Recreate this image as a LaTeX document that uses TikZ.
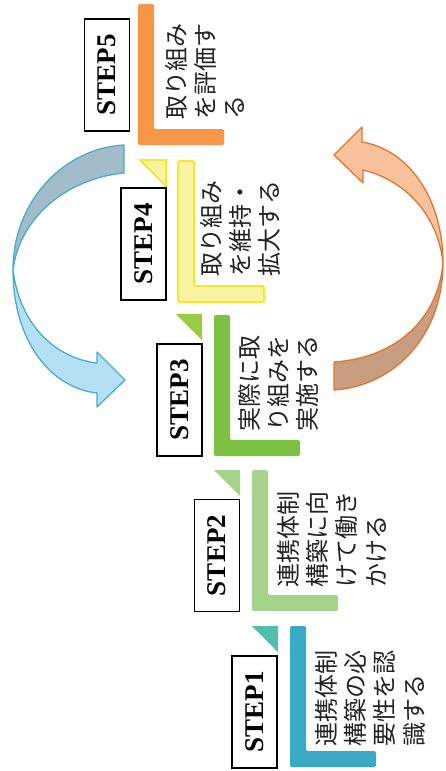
\documentclass[tikz,border=0pt]{standalone}
\usepackage{fontspec}
\setmainfont{Liberation Serif}
\newfontfamily\jp{Noto Sans CJK JP}
\definecolor{cOne}{HTML}{3AA9C6}
\definecolor{cOneT}{HTML}{52BFAB}
\definecolor{cTwo}{HTML}{A6D38C}
\definecolor{cThree}{HTML}{7CC142}
\definecolor{cThreeT}{HTML}{9ACB45}
\definecolor{cFourFill}{HTML}{F7F3A0}
\definecolor{cFourLine}{HTML}{F2EA2A}
\definecolor{cFive}{HTML}{F79646}
\definecolor{bLine}{HTML}{4BACC6}
\definecolor{bUp}{HTML}{A3BCC9}
\definecolor{bLow}{HTML}{B3E0F5}
\definecolor{oLine}{HTML}{E07530}
\definecolor{oUp}{HTML}{F9C29D}
\definecolor{oLow}{HTML}{C99D80}
\definecolor{txt}{HTML}{222222}
\begin{document}
\begin{tikzpicture}[x=1pt,y=-1pt,
  stepbox/.style={draw=black,line width=1.1pt,fill=white,rotate=90,
    minimum width=112pt,minimum height=45pt,inner sep=0pt,
    font=\fontsize{27}{30}\selectfont\bfseries},
  steptext/.style={rotate=90,anchor=north west,inner sep=0pt,align=left,
    text=txt,font=\jp\fontsize{24}{29.3}\selectfont},
  lshape/.pic={\path[pic actions,rounded corners=1.5pt] (0,0) -- (16,0) -- (16,125) -- (86,125) -- (86,141) -- (0,141) -- cycle;},
  tri/.pic={\path[pic actions] (0,0) -- (26,0) -- (26,26) -- cycle;},
  arrowline/.style={line width=1.3pt,line join=round}
]
\useasboundingbox (0,0) rectangle (445,771);

% blue curved arrow
\path[fill=bUp,draw=bLine,arrowline]
  (124,145) .. controls (65,148) and (13,200) .. (13,270)
  .. controls (20,215) and (70,178) .. (124,173) -- cycle;
\path[fill=bLow,draw=bLine,arrowline]
  (13,270) .. controls (13,340) and (50,388) .. (97,393)
  -- (97,407) -- (125,380) -- (97,352) -- (97,363)
  .. controls (55,358) and (20,325) .. (13,270) -- cycle;

% orange curved arrow
\path[fill=oLow,draw=oLine,arrowline]
  (443,263) .. controls (443,335) and (395,386) .. (334,390)
  -- (334,362) .. controls (395,358) and (438,320) .. (443,263) -- cycle;
\path[fill=oUp,draw=oLine,arrowline]
  (443,263) .. controls (443,200) and (410,150) .. (362,142)
  -- (362,127) -- (334,155) -- (363,183) -- (363,170)
  .. controls (405,180) and (438,215) .. (443,263) -- cycle;

% L shapes and triangles
\pic[fill=cOne] at (290,626) {lshape};
\pic[fill=cOneT] at (252,626) {tri};
\pic[fill=cTwo] at (252,470) {lshape};
\pic[fill=cTwo] at (214,470) {tri};
\pic[fill=cThree] at (214,315) {lshape};
\pic[fill=cThreeT] at (176,314) {tri};
\pic[fill=cFourFill,draw=cFourLine,line width=2pt] at (178,161) {lshape};
\pic[fill=cFourFill,draw=cFourLine,line width=2pt] at (140,160) {tri};
\pic[fill=cFive] at (138,4) {lshape};

% step boxes
\node[stepbox] (s1) at (254.5,712) {STEP1};
\node[stepbox] (s2) at (217,555.5) {STEP2};
\node[stepbox] (s3) at (179.5,400) {STEP3};
\node[stepbox] (s4) at (143.5,244) {STEP4};
\node[stepbox] (s5) at (107,75) {STEP5};

% step texts
\node[steptext] (t1) at (315,747) {連携体制\\構築の必\\要性を認\\識する};
\node[steptext] (t2) at (277,588) {連携体制\\構築に向\\けて働き\\かける};
\node[steptext] (t3) at (238,432) {実際に取\\り組みを\\実施する};
\node[steptext] (t4) at (200,277) {取り組み\\を維持・\\拡大する};
\node[steptext] (t5) at (165,120) {取り組み\\を評価す\\る};
\end{tikzpicture}
\end{document}
